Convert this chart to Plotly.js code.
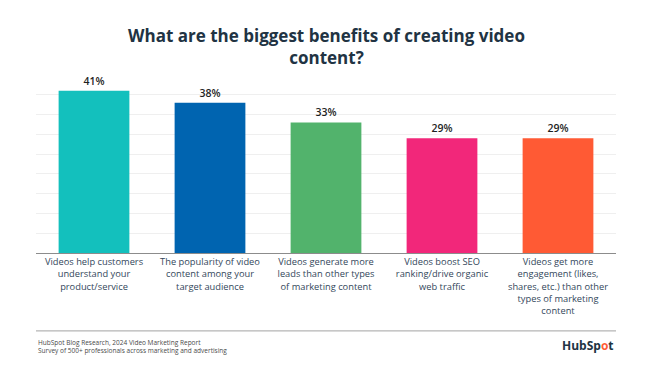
<!DOCTYPE html>
<html>
<head>
<meta charset="utf-8">
<script src="https://cdn.plot.ly/plotly-3.0.1.min.js"></script>
<style>
html,body{margin:0;padding:0;background:#fff;}
#chart{width:653px;height:368px;}
</style>
</head>
<body>
<div id="chart"></div>
<script>
const categories = [
  "Videos help customers<br>understand your<br>product/service",
  "The popularity of video<br>content among your<br>target audience",
  "Videos generate more<br>leads than other types<br>of marketing content",
  "Videos boost SEO<br>ranking/drive organic<br>web traffic",
  "Videos get more<br>engagement (likes,<br>shares, etc.) than other<br>types of marketing<br>content"
];
const values = [41, 38, 33, 29, 29];
const valueLabels = ["41%", "38%", "33%", "29%", "29%"];
const barColors = ["#13C0BD", "#0064B0", "#52B36C", "#F2277A", "#FF5A34"];
const sourceLines = [
  "HubSpot Blog Research, 2024 Video Marketing Report",
  "Survey of 500+ professionals across marketing and advertising"
];

const trace = {
  type: "bar",
  x: categories,
  y: values,
  text: valueLabels,
  textposition: "outside",
  cliponaxis: false,
  textfont: {family: "'Open Sans', sans-serif", size: 10.5, color: "#1f1f1f", weight: 600},
  marker: {color: barColors, line: {width: 0}},
  hoverinfo: "none"
};

const layout = {
  width: 653,
  height: 368,
  margin: {l: 36, r: 37, t: 74.5, b: 115.3},
  paper_bgcolor: "#ffffff",
  plot_bgcolor: "#ffffff",
  bargap: 0.39,
  showlegend: false,
  title: {
    text: "What are the biggest benefits of creating video<br>content?",
    font: {family: "'Open Sans', sans-serif", size: 17, color: "#213343", weight: 700},
    x: 0.5, xanchor: "center",
    y: 0.886, yanchor: "top", yref: "container"
  },
  xaxis: {
    type: "category",
    showline: true, linecolor: "#8c8c8c", linewidth: 1.2,
    ticks: "", showgrid: false,
    tickfont: {family: "'Open Sans', sans-serif", size: 9.3, color: "#33475B"},
    automargin: false
  },
  yaxis: {
    range: [0, 45], dtick: 5, showticklabels: false,
    showgrid: true, gridcolor: "#efefef", gridwidth: 1,
    zeroline: false, showline: false, ticks: "", fixedrange: true
  },
  shapes: [{
    type: "line", xref: "paper", yref: "paper",
    x0: 0, x1: 1, y0: -0.438, y1: -0.438,
    line: {color: "#b5b5b5", width: 1.2}
  }],
  annotations: [
    {
      xref: "paper", yref: "paper", x: 0, y: -0.468, xanchor: "left", yanchor: "top",
      text: sourceLines.join("<br>"), align: "left", showarrow: false,
      font: {family: "'Open Sans', sans-serif", size: 6.5, color: "#4a4a4a"}
    },
    {
      xref: "paper", yref: "paper", x: 1, y: -0.52, xanchor: "right", yanchor: "middle",
      text: "HubSp<span style='color:#FF5C35'>o</span>t", showarrow: false,
      font: {family: "'Open Sans', sans-serif", size: 12, color: "#213343", weight: 700}
    }
  ]
};

Plotly.newPlot("chart", [trace], layout, {displayModeBar: false, staticPlot: true});
</script>
</body>
</html>
